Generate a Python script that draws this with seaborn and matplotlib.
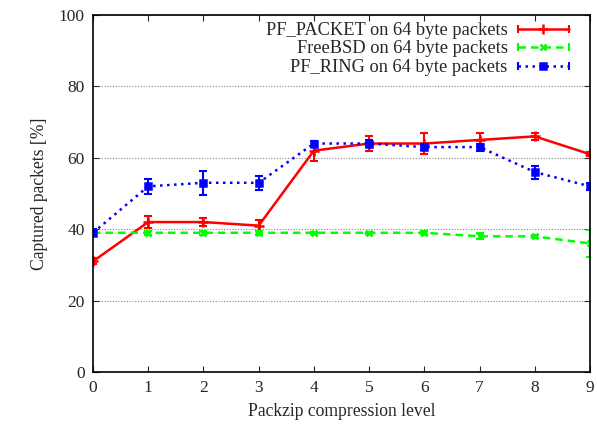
import matplotlib
matplotlib.use("Agg")
import matplotlib.pyplot as plt
from matplotlib.lines import Line2D
from matplotlib.legend_handler import HandlerBase, HandlerTuple
import seaborn as sns
import numpy as np
import pandas as pd

levels = [0, 1, 2, 3, 4, 5, 6, 7, 8, 9]
pf_packet = [31, 42, 42, 41, 62, 64, 64, 65, 66, 61]
pf_packet_err = [0.8, 1.7, 1.0, 1.5, 2.8, 2.0, 3.0, 2.0, 1.0, 0.5]
freebsd = [39, 39, 39, 39, 39, 39, 39, 38, 38, 36]
freebsd_err = [0.3, 0.5, 0.6, 0.5, 0.3, 0.3, 0.4, 0.8, 0.5, 3.7]
pf_ring = [39, 52, 53, 53, 64, 64, 63, 63, 56, 52]
pf_ring_err = [1.0, 2.0, 3.3, 2.0, 0.8, 1.0, 0.8, 1.0, 1.8, 1.0]

labels = ["PF_PACKET on 64 byte packets", "FreeBSD on 64 byte packets",
          "PF_RING on 64 byte packets"]
colors = ["#ff0000", "#00ff00", "#0000ff"]

sns.set_style("ticks")
plt.rcParams['font.family'] = ['Liberation Serif', 'DejaVu Serif']

fig = plt.figure(figsize=(5.97, 4.30), dpi=100)
ax = fig.add_axes([93/597, 1 - 372/430, (590-93)/597, (372-15)/430])

series = [
    (pf_packet, pf_packet_err, "-", "+", 7),
    (freebsd, freebsd_err, (0, (3, 2)), "x", 5),
    (pf_ring, pf_ring_err, (0, (1, 1.8)), "s", 5),
]
for (vals, errs, ls, mk, ms), lab, col in zip(series, labels, colors):
    df = pd.DataFrame({"level": levels, "value": vals})
    sns.lineplot(data=df, x="level", y="value", ax=ax, color=col,
                 linestyle=ls, linewidth=1.8, marker=mk, markersize=ms,
                 markeredgewidth=1.8, markeredgecolor=col, label=lab)
    ax.errorbar(levels, vals, yerr=errs, fmt="none", ecolor=col,
                elinewidth=1.5, capsize=3, capthick=1.5,
                linestyle=ls)

ax.set_xlim(0, 9)
ax.set_ylim(0, 100)
ax.set_xticks(levels)
ax.set_yticks([0, 20, 40, 60, 80, 100])
ax.yaxis.grid(True, linestyle=(0, (1, 1.5)), color="#888888", linewidth=0.8)
ax.tick_params(direction="in", top=True, right=True, length=4, width=0.8,
               labelsize=12.5, pad=6)
for s in ax.spines.values():
    s.set_linewidth(1.2)
    s.set_color("black")
ax.set_xlabel("Packzip compression level", fontsize=12.7, labelpad=5)
ax.set_ylabel("Captured packets [%]", fontsize=12.7, labelpad=8)


class EndCaps(HandlerBase):
    def create_artists(self, legend, orig_handle, xdescent, ydescent,
                       width, height, fontsize, trans):
        x = [-xdescent, -xdescent + width]
        y = [(height - ydescent) / 2] * 2
        ln = Line2D(x, y, color=orig_handle.get_color(), linestyle="none",
                    marker="|", markersize=orig_handle.get_markersize(),
                    markeredgewidth=orig_handle.get_markeredgewidth())
        ln.set_transform(trans)
        return [ln]


handles_main, labs = ax.get_legend_handles_labels()
if ax.get_legend():
    ax.get_legend().remove()
handles = []
hmap = {tuple: HandlerTuple(ndivide=1, pad=0)}
for h, col in zip(handles_main, colors):
    cap = Line2D([], [], color=col, linestyle="none", marker="|",
                 markersize=6, markeredgewidth=1.5)
    hmap[cap] = EndCaps()
    handles.append((h, cap))

leg = ax.legend(handles, labs, handler_map=hmap, loc="upper right",
                frameon=False, fontsize=13.2, numpoints=1,
                markerfirst=False, handlelength=2.8, labelspacing=0.08,
                borderpad=0, borderaxespad=0, handletextpad=0.55,
                bbox_to_anchor=((569-93)/497, (372-22)/357))
for t in leg.get_texts():
    t.set_ha("right")
leg._legend_box.align = "right"

fig.savefig("out.png", dpi=100)
